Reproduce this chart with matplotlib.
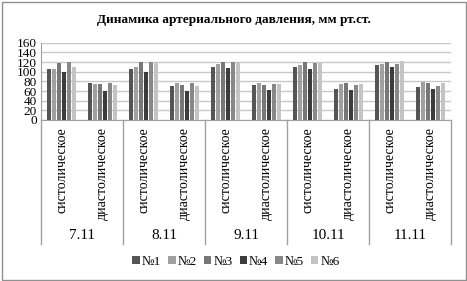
import numpy as np
import matplotlib
matplotlib.use("Agg")
import matplotlib.pyplot as plt
from matplotlib.lines import Line2D
from matplotlib.patches import Rectangle

plt.rcParams['font.family'] = ['Liberation Serif', 'DejaVu Serif']

dates = ['7.11', '8.11', '9.11', '10.11', '11.11']
kinds = ['систолическое', 'диастолическое']
series = ['№1', '№2', '№3', '№4', '№5', '№6']
colors = ['#555555', '#a0a0a0', '#777777', '#3c3c3c', '#888888', '#c4c4c4']

# values per category (date x kind), one list per series
v1 = [105, 77, 105, 70, 109, 73, 109, 64, 113, 68]
v2 = [106, 75, 110, 77, 115, 77, 113, 75, 116, 79]
v3 = [118, 75, 120, 72, 120, 73, 120, 77, 120, 77]
v4 = [100, 60, 100, 60, 108, 63, 105, 62, 109, 65]
v5 = [120, 77, 120, 77, 120, 75, 118, 72, 116, 70]
v6 = [110, 72, 121, 70, 121, 75, 118, 75, 123, 77]
values = [v1, v2, v3, v4, v5, v6]

fig = plt.figure(figsize=(4.67, 2.81), dpi=100)
ax = fig.add_axes([41/467, 1-120/281, 410/467, 77.3/281])

ncat = len(dates) * len(kinds)
x = np.arange(ncat)
w = 0.125
for i, (vals, c, lab) in enumerate(zip(values, colors, series)):
    ax.bar(x + (i - 2.5) * w, vals, width=w*0.82, color=c, label=lab, zorder=3)

ax.set_xlim(-0.5, ncat - 0.5)
ax.set_ylim(0, 160)
ax.set_yticks(np.arange(0, 161, 20))
ax.tick_params(axis='y', length=0, labelsize=9.5, pad=3)
ax.grid(axis='y', color='#c8c8c8', lw=1, zorder=0)
for s in ['top', 'right']:
    ax.spines[s].set_visible(False)
for s in ['left', 'bottom']:
    ax.spines[s].set_color('#a0a0a0')

ax.set_xticks(x)
ax.set_xticklabels(kinds * len(dates), rotation=90, fontsize=10, va='top')
ax.tick_params(axis='x', length=0, pad=5)

# date group labels and separators
for k, d in enumerate(dates):
    ax.text(2*k + 0.5, -1.5, d, transform=ax.get_xaxis_transform(),
            ha='center', va='center', fontsize=11)
for k in range(len(dates) + 1):
    xs = (2*k) / ncat
    ax.add_line(Line2D([xs, xs], [0, -1.61], transform=ax.transAxes,
                       color='#a0a0a0', lw=1, clip_on=False))

fig.text(0.5, 1-20/281, 'Динамика артериального давления, мм рт.ст.',
         ha='center', va='center', fontsize=9.5, fontweight='bold')

fig.legend(loc='center', bbox_to_anchor=(236/467, 1-262/281), ncol=6,
           frameon=False, fontsize=9.5, handlelength=0.55, handleheight=0.55,
           handletextpad=0.15, columnspacing=0.55)

fig.add_artist(Rectangle((1.5/467, 1.5/281), 1-3/467, 1-3/281,
                         transform=fig.transFigure, fill=False,
                         edgecolor='#909090', lw=1))

fig.savefig('out.png', dpi=100)
